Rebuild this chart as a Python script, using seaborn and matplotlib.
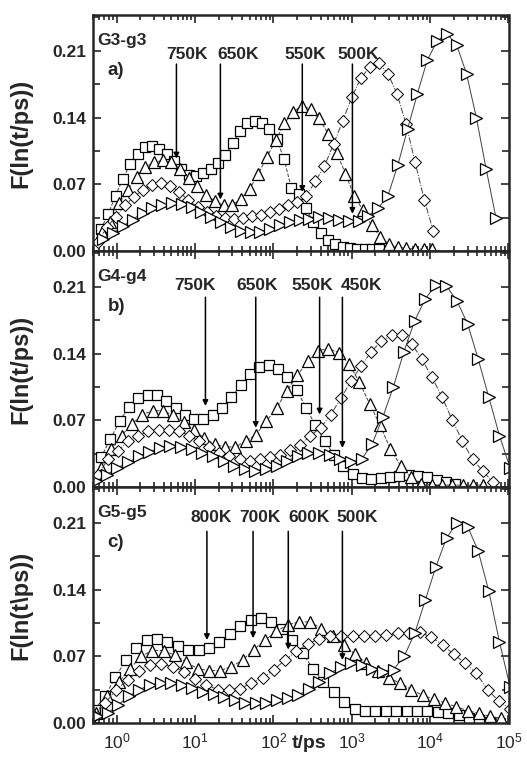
import numpy as np
import matplotlib
matplotlib.use("Agg")
import matplotlib.pyplot as plt
import matplotlib.ticker as mticker
import seaborn as sns

sns.set_style("ticks")
plt.rcParams["font.family"] = ["Liberation Sans", "DejaVu Sans"]
plt.rcParams["mathtext.fontset"] = "custom"
plt.rcParams["mathtext.rm"] = "Liberation Sans"
plt.rcParams["mathtext.bf"] = "Liberation Sans:bold"

# log10(t/ps) of first and last point of each curve, then the values
# panel a) G3-g3
a_sq_range = (-0.20, 3.35)
a_sq = [0.023, 0.039, 0.058, 0.076, 0.091, 0.102, 0.109, 0.110, 0.107, 0.102,
        0.094, 0.086, 0.080, 0.079, 0.082, 0.086, 0.092, 0.101, 0.113, 0.126,
        0.134, 0.136, 0.134, 0.128, 0.117, 0.097, 0.066, 0.060, 0.045, 0.030,
        0.019, 0.012, 0.007, 0.004, 0.003, 0.002, 0.002, 0.002, 0.002]
a_up_range = (-0.19, 4.03)
a_up = [0.020, 0.030, 0.050, 0.064, 0.078, 0.088, 0.093, 0.095, 0.093, 0.086,
        0.077, 0.068, 0.059, 0.052, 0.048, 0.048, 0.055, 0.065, 0.081, 0.099,
        0.116, 0.134, 0.146, 0.152, 0.149, 0.139, 0.123, 0.103, 0.081, 0.058,
        0.043, 0.027, 0.015, 0.007, 0.004, 0.003, 0.002, 0.002, 0.002]
a_dm_range = (-0.24, 4.04)
a_dm = [0.009, 0.025, 0.036, 0.048, 0.057, 0.064, 0.069, 0.071, 0.068, 0.062,
        0.053, 0.046, 0.041, 0.037, 0.035, 0.034, 0.035, 0.037, 0.038, 0.041,
        0.044, 0.048, 0.051, 0.058, 0.073, 0.089, 0.112, 0.136, 0.161, 0.181,
        0.193, 0.197, 0.186, 0.165, 0.133, 0.093, 0.054, 0.021]
a_rt_range = (-0.17, 4.84)
a_rt = [0.013, 0.019, 0.026, 0.033, 0.040, 0.045, 0.048, 0.050, 0.049, 0.046,
        0.041, 0.036, 0.030, 0.025, 0.021, 0.020, 0.020, 0.023, 0.027, 0.030,
        0.033, 0.034, 0.036, 0.035, 0.033, 0.031, 0.031, 0.037, 0.045, 0.058,
        0.090, 0.128, 0.165, 0.200, 0.220, 0.228, 0.216, 0.186, 0.140, 0.086,
        0.035]

# panel b) G4-g4
b_sq_range = (-0.20, 4.32)
b_sq = [0.031, 0.050, 0.069, 0.084, 0.093, 0.097, 0.096, 0.090, 0.083, 0.076,
        0.071, 0.071, 0.075, 0.083, 0.094, 0.107, 0.118, 0.126, 0.128, 0.124,
        0.115, 0.102, 0.083, 0.065, 0.048, 0.034, 0.022, 0.014, 0.009, 0.008,
        0.009, 0.010, 0.012, 0.013, 0.012, 0.010, 0.007, 0.005, 0.003]
b_up_range = (-0.20, 4.68)
b_up = [0.020, 0.040, 0.054, 0.066, 0.076, 0.080, 0.080, 0.075, 0.068, 0.060,
        0.051, 0.045, 0.042, 0.042, 0.048, 0.055, 0.069, 0.083, 0.101, 0.117,
        0.132, 0.143, 0.145, 0.141, 0.129, 0.110, 0.087, 0.065, 0.040, 0.022,
        0.010, 0.003, 0.002, 0.002, 0.002, 0.002, 0.002, 0.002]
b_dm_range = (-0.24, 4.80)
b_dm = [0.013, 0.029, 0.038, 0.048, 0.053, 0.059, 0.060, 0.060, 0.059, 0.054,
        0.048, 0.042, 0.036, 0.033, 0.029, 0.027, 0.029, 0.031, 0.034, 0.039,
        0.044, 0.054, 0.062, 0.076, 0.093, 0.111, 0.127, 0.142, 0.153, 0.159,
        0.159, 0.150, 0.134, 0.115, 0.094, 0.070, 0.048, 0.029, 0.017, 0.005]
b_rt_range = (-0.26, 5.02)
b_rt = [0.006, 0.013, 0.020, 0.026, 0.032, 0.037, 0.041, 0.043, 0.042, 0.040,
        0.036, 0.032, 0.027, 0.022, 0.019, 0.017, 0.019, 0.022, 0.027, 0.033,
        0.036, 0.036, 0.034, 0.029, 0.026, 0.029, 0.045, 0.073, 0.105, 0.142,
        0.174, 0.197, 0.212, 0.211, 0.195, 0.171, 0.134, 0.094, 0.054, 0.020]

# panel c) G5-g5
c_sq_range = (-0.28, 4.76)
c_sq = [0.014, 0.028, 0.048, 0.066, 0.079, 0.087, 0.088, 0.085, 0.081, 0.077,
        0.077, 0.079, 0.085, 0.093, 0.102, 0.108, 0.110, 0.106, 0.099, 0.087,
        0.073, 0.057, 0.043, 0.032, 0.022, 0.015, 0.013, 0.013, 0.013, 0.013,
        0.013, 0.013, 0.013, 0.012, 0.011, 0.008, 0.005, 0.003, 0.001]
c_up_range = (-0.26, 4.91)
c_up = [0.010, 0.028, 0.043, 0.057, 0.070, 0.076, 0.076, 0.071, 0.064, 0.057,
        0.055, 0.055, 0.059, 0.066, 0.077, 0.087, 0.096, 0.103, 0.106, 0.106,
        0.099, 0.091, 0.082, 0.072, 0.063, 0.055, 0.047, 0.042, 0.035, 0.029,
        0.025, 0.021, 0.017, 0.013, 0.010, 0.007, 0.005]
c_dm_range = (-0.29, 5.02)
c_dm = [0.007, 0.021, 0.035, 0.045, 0.055, 0.061, 0.062, 0.059, 0.054, 0.046,
        0.040, 0.035, 0.035, 0.036, 0.042, 0.047, 0.056, 0.066, 0.075, 0.083,
        0.088, 0.091, 0.091, 0.091, 0.091, 0.091, 0.092, 0.094, 0.094, 0.095,
        0.090, 0.082, 0.072, 0.063, 0.052, 0.035, 0.023, 0.015]
c_rt_range = (-0.25, 5.02)
c_rt = [0.007, 0.010, 0.019, 0.028, 0.035, 0.040, 0.042, 0.042, 0.040, 0.037,
        0.033, 0.030, 0.027, 0.024, 0.021, 0.021, 0.021, 0.024, 0.026, 0.029,
        0.036, 0.043, 0.052, 0.059, 0.063, 0.061, 0.057, 0.054, 0.056, 0.070,
        0.094, 0.129, 0.164, 0.194, 0.210, 0.206, 0.180, 0.138, 0.085, 0.038]

# temperature arrows: label, arrow time (ps), arrow tip value, label centre time
a_temps = ["750K", "650K", "550K", "500K"]
a_arrow_t = [5.8, 21.1, 234, 1020]
a_arrow_tip = [0.097, 0.054, 0.062, 0.039]
a_label_t = [7.8, 36, 252, 1200]
b_temps = ["750K", "650K", "550K", "450K"]
b_arrow_t = [13.6, 59.6, 389, 760]
b_arrow_tip = [0.085, 0.062, 0.076, 0.041]
b_label_t = [9.9, 61.4, 314, 1346]
c_temps = ["800K", "700K", "600K", "500K"]
c_arrow_t = [14.2, 55.1, 155, 760]
c_arrow_tip = [0.087, 0.089, 0.077, 0.066]
c_label_t = [15.9, 67, 283, 1161]

systems = ["G3-g3", "G4-g4", "G5-g5"]
panel_tags = ["a)", "b)", "c)"]
ylabels = ["F(ln(t/ps))", "F(ln(t/ps))", "F(ln(t\\ps))"]

panels = [
    [(a_sq_range, a_sq), (a_up_range, a_up), (a_dm_range, a_dm), (a_rt_range, a_rt)],
    [(b_sq_range, b_sq), (b_up_range, b_up), (b_dm_range, b_dm), (b_rt_range, b_rt)],
    [(c_sq_range, c_sq), (c_up_range, c_up), (c_dm_range, c_dm), (c_rt_range, c_rt)],
]
arrows = [
    (a_temps, a_arrow_t, a_arrow_tip, a_label_t, 0.196, 0.206),
    (b_temps, b_arrow_t, b_arrow_tip, b_label_t, 0.199, 0.211),
    (c_temps, c_arrow_t, c_arrow_tip, c_label_t, 0.201, 0.215),
]

markers = [("s", 7, "--", 0.9), ("^", 8.5, "--", 0.9),
           ("D", 6.3, "-.", 0.7), (">", 8.5, "-", 0.9)]

fig = plt.figure(figsize=(5.27, 7.57), dpi=100)
axes = fig.subplots(3, 1, sharex=True)
fig.subplots_adjust(left=93 / 527, right=508.5 / 527, top=1 - 15 / 757,
                    bottom=1 - 723 / 757, hspace=0)

for i, ax in enumerate(axes):
    ax.set_xscale("log")
    for (rng, vals), (mk, ms, ls, mew) in zip(panels[i], markers):
        t = np.logspace(rng[0], rng[1], len(vals))
        sns.lineplot(x=t, y=vals, ax=ax, marker=mk, markersize=ms, linestyle=ls,
                     color="0.25", lw=0.7, markerfacecolor="white",
                     markeredgecolor="black", markeredgewidth=mew,
                     sort=False, estimator=None)

    temps, at, tip, lt, top, ly = arrows[i]
    for name, x, y, xl in zip(temps, at, tip, lt):
        ax.annotate("", xy=(x, y), xytext=(x, top),
                    arrowprops=dict(arrowstyle="-|>", color="black", lw=1.1,
                                    mutation_scale=8, shrinkA=0, shrinkB=0))
        ax.text(xl, ly, name, ha="center", va="center", fontsize=12.5,
                fontweight="bold")

    ax.text(0.01, 0.89, systems[i], transform=ax.transAxes, ha="left",
            va="center", fontsize=12.5, fontweight="bold")
    ax.text(0.035, 0.765, panel_tags[i], transform=ax.transAxes, ha="left",
            va="center", fontsize=13.5, fontweight="bold")

    ax.set_xlim(0.5, 1e5)
    ax.set_ylim(0, 0.2475)
    ax.yaxis.set_major_locator(mticker.MultipleLocator(0.07))
    ax.yaxis.set_minor_locator(mticker.MultipleLocator(0.035))
    ax.yaxis.set_major_formatter(mticker.FormatStrFormatter("%.2f"))
    ax.xaxis.set_major_locator(mticker.LogLocator(base=10, numticks=10))
    ax.xaxis.set_minor_locator(mticker.LogLocator(base=10, subs=np.arange(2, 10), numticks=20))
    ax.xaxis.set_minor_formatter(mticker.NullFormatter())
    ax.tick_params(which="both", direction="in", top=True, right=True, width=1.2)
    ax.tick_params(which="major", length=6, labelsize=12.5, pad=5)
    ax.tick_params(which="minor", length=3.5)
    ax.tick_params(axis="y", which="minor", length=5)
    for lab in ax.get_yticklabels():
        lab.set_fontweight("bold")
    for s in ax.spines.values():
        s.set_linewidth(1.8)
    ax.set_ylabel(ylabels[i], fontsize=17, fontweight="bold")
    ax.yaxis.set_label_coords(-0.145, 0.5)
    ax.set_xlabel("")

axes[-1].tick_params(axis="x", which="major", labelsize=12.5, pad=6)
fig.text(309 / 527, 1 - 743 / 757, "t/ps", ha="center", va="center",
         fontsize=14, fontweight="bold")

fig.savefig("out.png", dpi=100)
